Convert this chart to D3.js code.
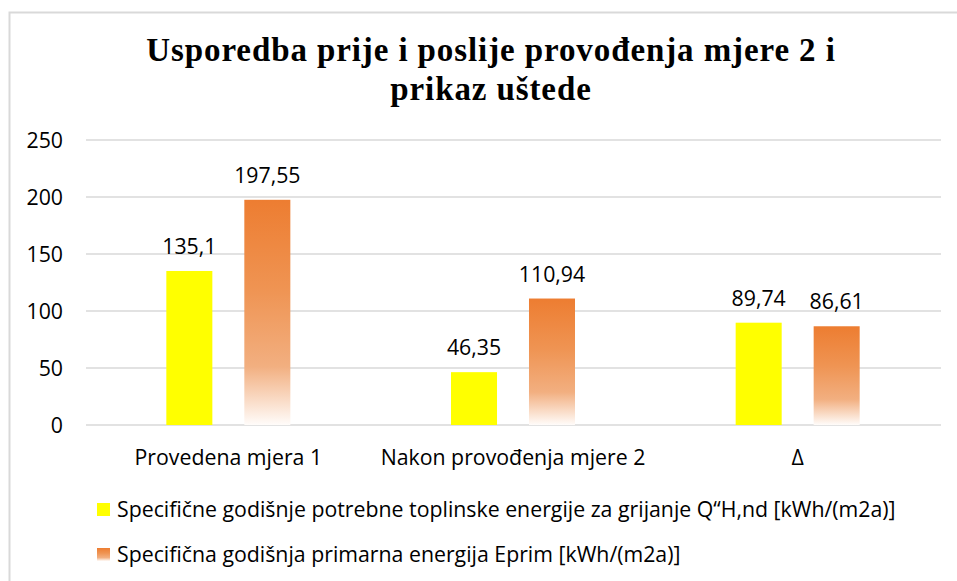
<!DOCTYPE html>
<html>
<head>
<meta charset="utf-8">
<script src="https://cdn.jsdelivr.net/npm/d3@7"></script>
<style>
  html, body { margin: 0; padding: 0; background: #fff; }
  svg { display: block; }
</style>
</head>
<body>
<svg id="chart" width="957" height="581"></svg>
<script>
// ---- data ----
const titleLines = ["Usporedba prije i poslije provođenja mjere 2 i", "prikaz uštede"];
const categories = ["Provedena mjera 1", "Nakon provođenja mjere 2", "Δ"];
const seriesNames = [
  "Specifične godišnje potrebne toplinske energije za grijanje Q“H,nd [kWh/(m2a)]",
  "Specifična godišnja primarna energija Eprim [kWh/(m2a)]"
];
const heatDemand = [135.1, 46.35, 89.74];
const primaryEnergy = [197.55, 110.94, 86.61];
const valueLabels1 = ["135,1", "46,35", "89,74"];
const valueLabels2 = ["197,55", "110,94", "86,61"];
const yTicks = [0, 50, 100, 150, 200, 250];

const svg = d3.select("#chart");
const font = "'Open Sans', sans-serif";
const fs = 21.3;

// defs: gradient for primary energy bars
const defs = svg.append("defs");
const grad = defs.append("linearGradient").attr("id", "orangeGrad")
  .attr("x1", 0).attr("y1", 0).attr("x2", 0).attr("y2", 1);
grad.append("stop").attr("offset", "0%").attr("stop-color", "#ED7D31");
grad.append("stop").attr("offset", "40%").attr("stop-color", "#EF9453");
grad.append("stop").attr("offset", "74%").attr("stop-color", "#F2AF80");
grad.append("stop").attr("offset", "100%").attr("stop-color", "#FFFCFA");

// frame
svg.append("rect").attr("x", 9.5).attr("y", 12.5).attr("width", 990).attr("height", 620)
  .attr("fill", "#fff").attr("stroke", "#D9D9D9").attr("stroke-width", 2);

// title
const title = svg.append("text").attr("text-anchor", "middle")
  .attr("font-family", "'Liberation Serif', 'Times New Roman', serif")
  .attr("font-weight", "bold").attr("font-size", 33).attr("letter-spacing", 0.9)
  .attr("fill", "#000");
titleLines.forEach((t, i) => {
  title.append("tspan").attr("x", 491).attr("y", 61 + i * 39).text(t);
});

// scales
const x0 = d3.scaleBand().domain(categories).range([86, 940]).padding(0);
const x1 = d3.scaleBand().domain([0, 1]).range([0, x0.bandwidth()])
  .paddingInner(0.41).paddingOuter(1.03);
const y = d3.scaleLinear().domain([0, 250]).range([425, 140]);

// grid lines
svg.append("g").selectAll("line").data(yTicks).join("line")
  .attr("x1", 86).attr("x2", 941)
  .attr("y1", d => y(d)).attr("y2", d => y(d))
  .attr("stroke", "#D9D9D9").attr("stroke-width", 1.5);

// y axis labels
const yAxis = d3.axisLeft(y).tickValues(yTicks).tickSize(0).tickPadding(0);
const yg = svg.append("g").attr("transform", "translate(63,0)").call(yAxis);
yg.select(".domain").remove();
yg.selectAll("text").attr("font-family", font).attr("font-size", fs).attr("fill", "#000")
  .attr("dy", "0.35em");

// x axis labels
const xAxis = d3.axisBottom(x0).tickSize(0).tickPadding(0);
const xg = svg.append("g").attr("transform", "translate(0,425)").call(xAxis);
xg.select(".domain").remove();
xg.selectAll("text").attr("font-family", font).attr("font-size", fs).attr("fill", "#000")
  .attr("dy", 0).attr("y", 40);

// bars
const seriesData = [heatDemand, primaryEnergy];
const fills = ["#FFFF00", "url(#orangeGrad)"];
const labels = [valueLabels1, valueLabels2];
seriesData.forEach((vals, s) => {
  const g = svg.append("g");
  g.selectAll("rect").data(vals).join("rect")
    .attr("x", (d, i) => x0(categories[i]) + x1(s))
    .attr("width", x1.bandwidth())
    .attr("y", d => y(d))
    .attr("height", d => y(0) - y(d))
    .attr("fill", fills[s]);
  g.selectAll("text").data(vals).join("text")
    .attr("x", (d, i) => x0(categories[i]) + x1(s) + x1.bandwidth() / 2)
    .attr("y", d => y(d) - 17)
    .attr("text-anchor", "middle")
    .attr("font-family", font).attr("font-size", fs).attr("fill", "#000")
    .text((d, i) => labels[s][i]);
});

// legend
const legend = svg.append("g");
seriesNames.forEach((name, i) => {
  const ly = 510 + i * 45;
  legend.append("rect").attr("x", 97).attr("y", ly - 7).attr("width", 13).attr("height", 13)
    .attr("fill", fills[i]);
  legend.append("text").attr("x", 117).attr("y", ly).attr("dy", "0.35em")
    .attr("font-family", font).attr("font-size", fs).attr("fill", "#000").text(name);
});
</script>
</body>
</html>
